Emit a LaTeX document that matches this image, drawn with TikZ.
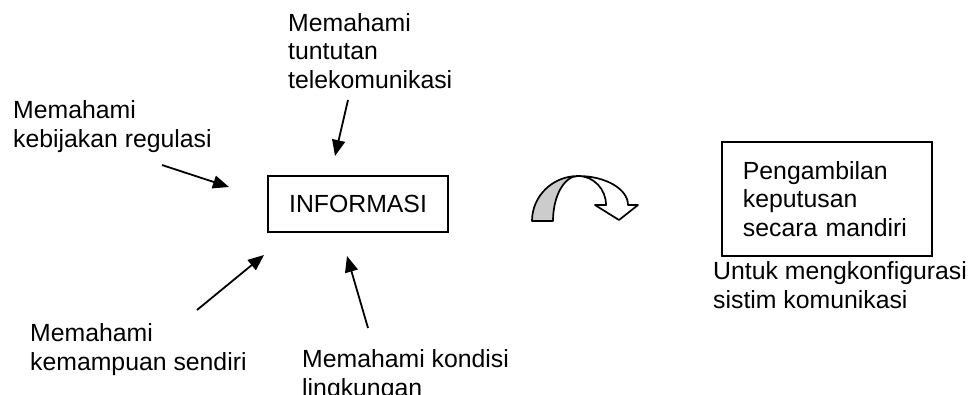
\documentclass[tikz,border=0pt]{standalone}
\usepackage{fontspec}
\setmainfont{Liberation Sans}
\usetikzlibrary{arrows.meta}
\tikzset{
  label text/.style={anchor=base west, inner sep=0pt, align=left,
    font=\fontsize{24.8}{28.3}\selectfont},
  framed box/.style={draw, line width=1.8pt, inner sep=0pt,
    font=\fontsize{24.8}{28.3}\selectfont},
  feed/.style={line width=1.8pt, -{Triangle[length=16pt,width=13pt]}},
  turn/.style={line width=1.7pt, line join=round}
}
\begin{document}
\begin{tikzpicture}[x=1pt,y=-1pt]
  \useasboundingbox (0,0) rectangle (971,394);

  % central information box
  \node[framed box, minimum width=180pt, minimum height=56pt] (info) at (358,204) {INFORMASI};

  % surrounding inputs (placed by the baseline of their last line)
  \node[label text] (tuntutan) at (288,88) {Memahami\\tuntutan\\telekomunikasi};
  \node[label text] (regulasi) at (13,147) {Memahami\\kebijakan regulasi};
  \node[label text] (kemampuan) at (30,370) {Memahami\\kemampuan sendiri};
  \node[label text] (kondisi) at (302,396) {Memahami kondisi\\lingkungan};

  % arrow end points
  \coordinate (t1) at (348,100);  \coordinate (t2) at (335,156);
  \coordinate (r1) at (162,165);  \coordinate (r2) at (229,187);
  \coordinate (k1) at (197,310);  \coordinate (k2) at (264,255);
  \coordinate (c1) at (368,328);  \coordinate (c2) at (347,256);

  \draw[feed] (t1) -- (t2);
  \draw[feed] (r1) -- (r2);
  \draw[feed] (k1) -- (k2);
  \draw[feed] (c1) -- (c2);

  % curved transition arrow: shaded back part
  \draw[turn, fill=black!20]
    (532,221) .. controls (532,196.1) and (552.6,176) .. (578,176)
    .. controls (564.2,176) and (553,196.1) .. (553,221) -- cycle;
  % front part with the arrow head
  \draw[turn, fill=white]
    (578,176) .. controls (605.6,176) and (628,189) .. (628,205)
    -- (638,205) -- (619,220) -- (595,205) -- (606,205)
    .. controls (606,189) and (593.5,176) .. (578,176) -- cycle;

  % decision box and its note
  \node[framed box, anchor=north west, text width=168pt, inner xsep=21pt,
        minimum height=114pt, align=left] (putusan) at (721,141)
        {Pengambilan\\keputusan\\secara mandiri};
  \node[label text] (konfig) at (713,308) {Untuk mengkonfigurasi\\sistim komunikasi};
\end{tikzpicture}
\end{document}
